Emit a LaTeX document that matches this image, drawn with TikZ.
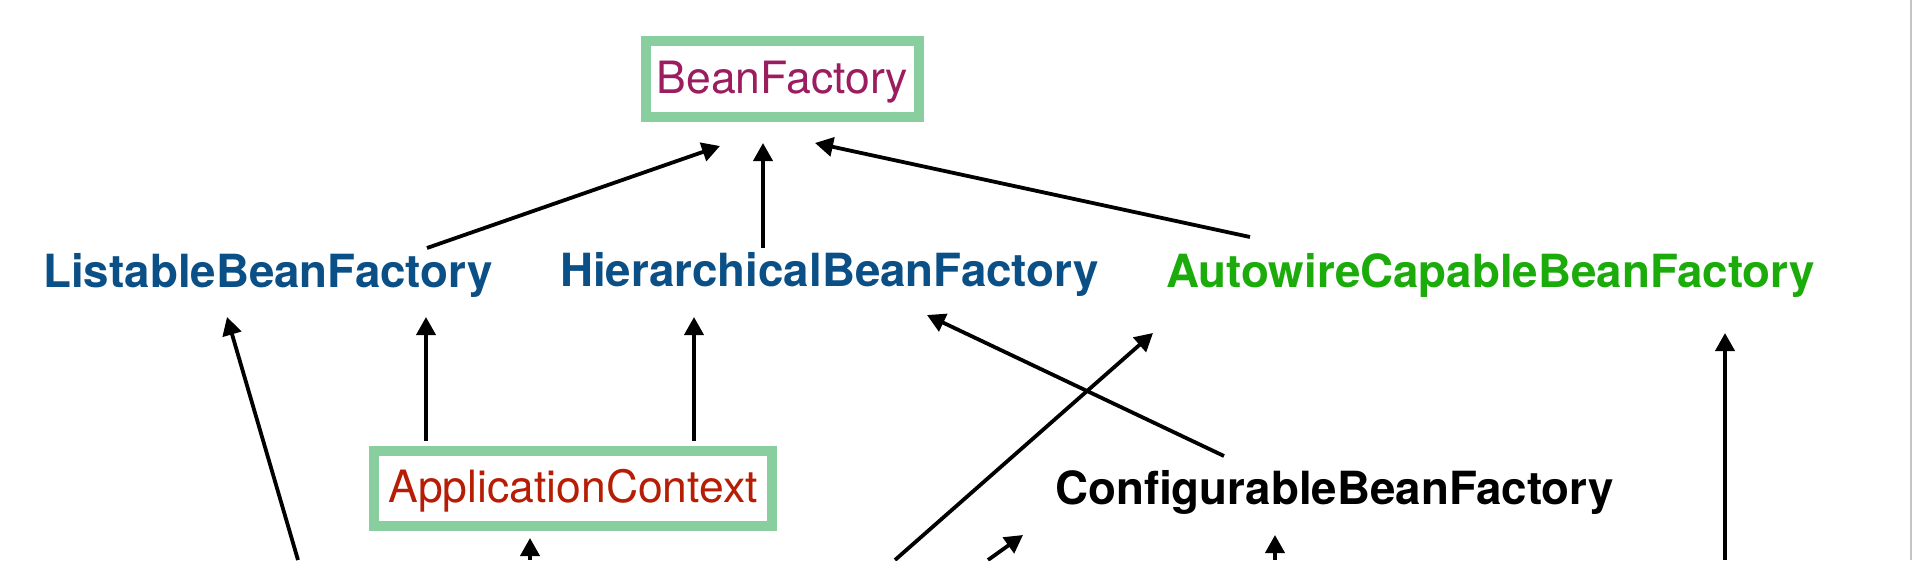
\documentclass[tikz,border=0pt]{standalone}
\usepackage{fontspec}
\setmainfont{TeX Gyre Heros}
\usetikzlibrary{arrows.meta}
\definecolor{boxgreen}{HTML}{89CE9F}
\definecolor{bfpurple}{HTML}{9B1C5F}
\definecolor{ifblue}{HTML}{0A4F86}
\definecolor{awgreen}{HTML}{1BAB0B}
\definecolor{acred}{HTML}{B71C04}
\definecolor{edgegray}{HTML}{C4C4C4}
\tikzset{
  boxed/.style={draw=boxgreen, line width=10pt, fill=white, inner sep=0pt,
    text height=28.5pt, text depth=0pt,
    font=\fontsize{44.5}{50}\selectfont},
  iface/.style={anchor=base west, inner sep=0pt,
    font=\fontsize{45.7}{52}\selectfont\bfseries},
  arr/.style={line width=3.8pt, -{Triangle[length=18pt,width=19pt]}}
}
\begin{document}
\begin{tikzpicture}[x=1pt,y=-1pt]
\useasboundingbox (0,0) rectangle (1922,560);
\fill[white] (0,0) rectangle (1922,560);
\draw[edgegray, line width=2.5pt] (1911,0) -- (1911,560);

% nodes
\node[boxed, text=bfpurple, minimum width=273pt, minimum height=76pt] (bf) at (782.5,79) {BeanFactory};
\node[iface, text=ifblue] (lbf) at (43,287) {ListableBeanFactory};
\node[iface, text=ifblue] (hbf) at (560,286) {HierarchicalBeanFactory};
\node[iface, text=awgreen] (acbf) at (1166,287) {AutowireCapableBeanFactory};
\node[boxed, text=acred, minimum width=398pt, minimum height=75pt] (ac) at (573,488.5) {ApplicationContext};
\node[iface, text=black] (cbf) at (1055,504) {ConfigurableBeanFactory};

% connector end points near the nodes
\coordinate (bf-l) at (720,146);
\coordinate (bf-m) at (763,143);
\coordinate (bf-r) at (815,143);
\coordinate (lbf-top) at (427,248);
\coordinate (hbf-top) at (763,248);
\coordinate (acbf-top) at (1250,237);
\coordinate (lbf-bl) at (227,317);
\coordinate (lbf-br) at (426,317);
\coordinate (hbf-bl) at (694,317);
\coordinate (hbf-br) at (927,315);
\coordinate (acbf-bl) at (1153,333);
\coordinate (acbf-br) at (1725,333);
\coordinate (ac-tl) at (426,441);
\coordinate (ac-tr) at (694,441);
\coordinate (ac-b) at (530,538);
\coordinate (cbf-top) at (1224,456);
\coordinate (cbf-bl) at (1023,535);
\coordinate (cbf-br) at (1275,535);
% free ends at the bottom edge
\coordinate (out1) at (298,560);
\coordinate (out2) at (530,560);
\coordinate (out3) at (895,560);
\coordinate (out4) at (988,560);
\coordinate (out5) at (1275,560);
\coordinate (out6) at (1725,560);

% connectors
\draw[arr] (lbf-top) -- (bf-l);
\draw[arr] (hbf-top) -- (bf-m);
\draw[arr] (acbf-top) -- (bf-r);
\draw[arr] (out1) -- (lbf-bl);
\draw[arr] (ac-tl) -- (lbf-br);
\draw[arr] (ac-tr) -- (hbf-bl);
\draw[arr] (cbf-top) -- (hbf-br);
\draw[arr] (out3) -- (acbf-bl);
\draw[arr] (out4) -- (cbf-bl);
\draw[arr] (out5) -- (cbf-br);
\draw[arr] (out2) -- (ac-b);
\draw[arr] (out6) -- (acbf-br);
\end{tikzpicture}
\end{document}
